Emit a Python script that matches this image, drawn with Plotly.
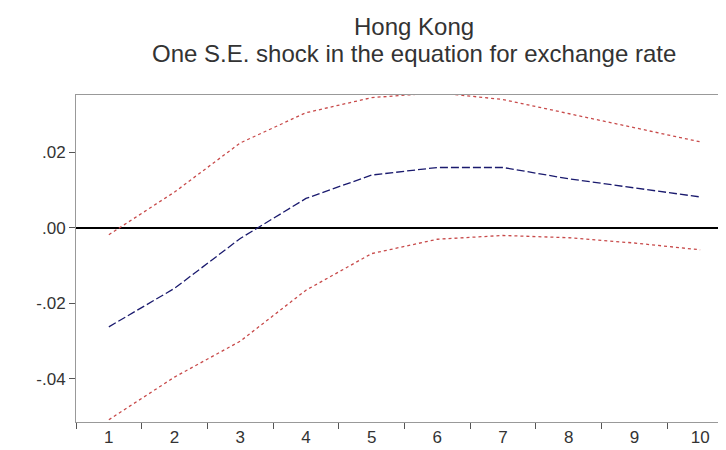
import plotly.graph_objects as go

periods = ["1", "2", "3", "4", "5", "6", "7", "8", "9", "10"]
response = [-0.0262, -0.0160, -0.0028, 0.0078, 0.0140, 0.0160, 0.0160, 0.0130, 0.0106, 0.0082]
upper = [-0.0018, 0.0095, 0.0225, 0.0305, 0.0345, 0.0358, 0.0340, 0.0302, 0.0266, 0.0228]
lower = [-0.0508, -0.0395, -0.0300, -0.0165, -0.0068, -0.0030, -0.0020, -0.0026, -0.0040, -0.0058]

title_lines = ["Hong Kong", "One S.E. shock in the equation for exchange rate"]
y_tickvals = [-0.04, -0.02, 0.0, 0.02]
y_ticktext = ["-.04", "-.02", ".00", ".02"]

fig = go.Figure()
fig.add_trace(go.Scatter(x=periods, y=upper, mode="lines",
                         line=dict(color="#c84a4a", width=1.3, dash="dot"),
                         showlegend=False))
fig.add_trace(go.Scatter(x=periods, y=lower, mode="lines",
                         line=dict(color="#c84a4a", width=1.3, dash="dot"),
                         showlegend=False))
fig.add_trace(go.Scatter(x=periods, y=response, mode="lines",
                         line=dict(color="#1a1a6e", width=1.3, dash="8px,3px"),
                         showlegend=False))

for text, shift in zip(title_lines, [69, 42]):
    fig.add_annotation(text=text, xref="paper", yref="paper", x=0.515, y=1,
                       xanchor="center", yanchor="middle", yshift=shift,
                       showarrow=False,
                       font=dict(size=24, color="#333333",
                                 family="Liberation Sans, Arial, sans-serif"))

fig.update_layout(
    width=726, height=450,
    margin=dict(l=68, r=1, t=87, b=36),
    paper_bgcolor="white", plot_bgcolor="white",
    font=dict(family="Liberation Sans, Arial, sans-serif", color="#333333"),
    xaxis=dict(type="category", range=[-0.5, 9.5], tickson="boundaries",
               ticks="outside", ticklen=6, tickcolor="#555555",
               showline=True, linecolor="#999999", mirror=True,
               showgrid=False, zeroline=False,
               tickfont=dict(size=17, color="#333333")),
    yaxis=dict(range=[-0.0514, 0.0352], tickvals=y_tickvals, ticktext=y_ticktext,
               ticks="outside", ticklen=6, tickcolor="#555555",
               showline=True, linecolor="#999999", mirror=True,
               showgrid=False, zeroline=True, zerolinecolor="black", zerolinewidth=1.6,
               tickfont=dict(size=17, color="#333333")),
)

fig.write_html("out.html")
